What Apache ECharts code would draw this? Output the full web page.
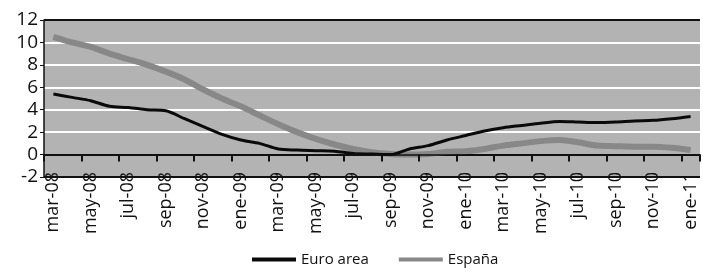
<!DOCTYPE html>
<html>
<head>
<meta charset="utf-8">
<script src="https://cdn.jsdelivr.net/npm/echarts@6/dist/echarts.min.js"></script>
<style>
  html, body { margin: 0; padding: 0; background: #fff; }
  #chart { width: 703px; height: 273px; }
</style>
</head>
<body>
<div id="chart"></div>
<script>
  // meses mar-08 .. ene-11
  const months = ['mar-08', 'abr-08', 'may-08', 'jun-08', 'jul-08', 'ago-08', 'sep-08', 'oct-08', 'nov-08', 'dic-08',
    'ene-09', 'feb-09', 'mar-09', 'abr-09', 'may-09', 'jun-09', 'jul-09', 'ago-09', 'sep-09', 'oct-09', 'nov-09', 'dic-09',
    'ene-10', 'feb-10', 'mar-10', 'abr-10', 'may-10', 'jun-10', 'jul-10', 'ago-10', 'sep-10', 'oct-10', 'nov-10', 'dic-10',
    'ene-11']
  const euroArea = [5.4, 5.1, 4.8, 4.3, 4.2, 4.0, 3.9, 3.2, 2.5, 1.8,
    1.3, 1.0, 0.5, 0.4, 0.35, 0.3, 0.1, 0.05, 0.0, 0.5, 0.8, 1.3,
    1.7, 2.1, 2.4, 2.6, 2.8, 2.95, 2.9, 2.85, 2.9, 3.0, 3.05, 3.2,
    3.4]
  const espana = [10.5, 10.0, 9.6, 9.0, 8.5, 8.0, 7.4, 6.7, 5.8, 5.0,
    4.3, 3.5, 2.7, 2.0, 1.4, 0.9, 0.5, 0.2, 0.05, 0.0, 0.05, 0.25,
    0.3, 0.5, 0.8, 1.0, 1.2, 1.3, 1.1, 0.8, 0.75, 0.7, 0.7, 0.6,
    0.4]
  const seriesNames = ['Euro area', 'España']

  const chart = echarts.init(document.getElementById('chart'))
  const font = 'Open Sans'

  chart.setOption({
    animation: false,
    // fondo gris del area de trazado, por detras de todo
    graphic: [{
      type: 'rect',
      left: 44,
      top: 20,
      z: -100,
      silent: true,
      shape: { width: 656, height: 157 },
      style: { fill: '#b3b3b3' }
    }],
    grid: {
      left: 44,
      right: 3,
      top: 20,
      bottom: 96,
      show: false
    },
    legend: {
      data: seriesNames,
      bottom: 1,
      left: 247,
      icon: 'rect',
      itemWidth: 44,
      itemHeight: 4,
      itemGap: 30,
      textStyle: { fontFamily: font, fontSize: 15, color: '#111' }
    },
    xAxis: [{
      // eje en cero con marcas cada dos meses
      type: 'category',
      data: months,
      boundaryGap: true,
      axisLine: { show: true, onZero: true, lineStyle: { color: '#111', width: 1.5 } },
      axisTick: {
        show: true,
        interval: function (i) { return i % 2 === 0 },
        length: 7,
        lineStyle: { color: '#111', width: 2 }
      },
      axisLabel: { show: false },
      splitLine: { show: false },
      z: 10
    }, {
      // etiquetas abajo
      type: 'category',
      data: months,
      position: 'bottom',
      boundaryGap: true,
      axisLine: { show: false, onZero: false },
      axisTick: { show: false },
      axisLabel: {
        interval: 1,
        rotate: 90,
        margin: -5,
        fontFamily: font,
        fontSize: 18,
        color: '#111'
      },
      splitLine: { show: false }
    }],
    yAxis: {
      type: 'value',
      min: -2,
      max: 12,
      interval: 2,
      axisLine: { show: true, lineStyle: { color: '#111', width: 1.5 } },
      axisTick: { show: true, length: 4, lineStyle: { color: '#111' } },
      axisLabel: { fontFamily: font, fontSize: 19, color: '#111', margin: 6 },
      splitLine: {
        show: true,
        lineStyle: { color: ['#111', '#111', '#fff', '#fff', '#fff', '#fff', '#fff', '#111'], width: 2 }
      }
    },
    series: [{
      name: seriesNames[0],
      type: 'line',
      data: euroArea,
      xAxisIndex: 0,
      showSymbol: false,
      smooth: 0.3,
      z: 3,
      itemStyle: { color: '#0a0a0a' },
      lineStyle: { color: '#0a0a0a', width: 3 }
    }, {
      name: seriesNames[1],
      type: 'line',
      data: espana,
      xAxisIndex: 0,
      showSymbol: false,
      smooth: 0.3,
      z: 2,
      itemStyle: { color: '#888888' },
      lineStyle: { color: '#888888', width: 6 }
    }]
  })
</script>
</body>
</html>
